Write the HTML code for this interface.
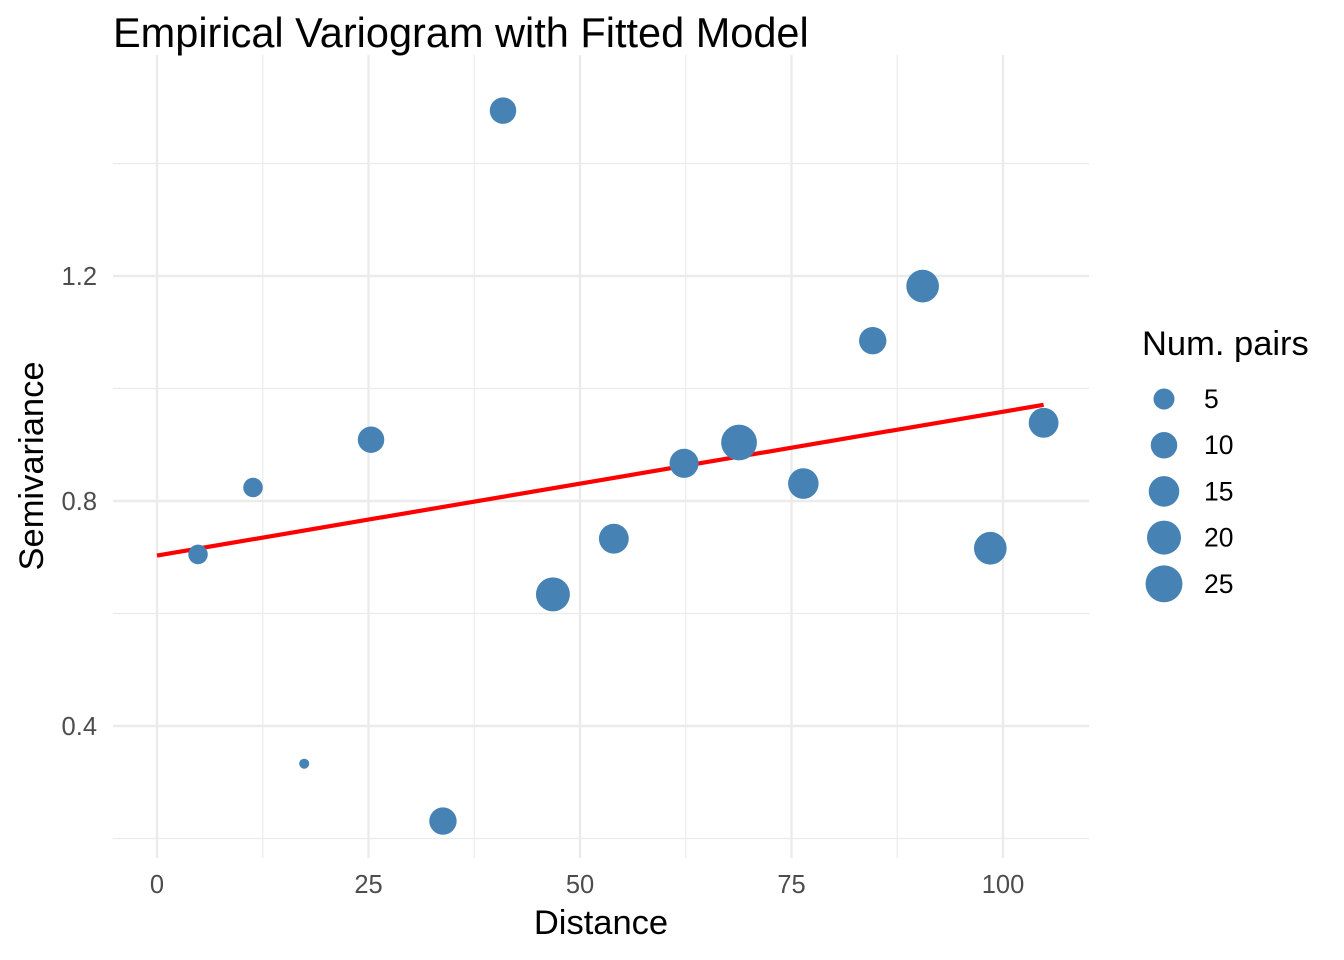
<!DOCTYPE html>
<html><head><meta charset="utf-8"><style>
html,body{margin:0;padding:0;background:#fff;}
svg{display:block;font-family:"Liberation Sans",Arial,sans-serif;}
</style></head><body>
<svg id="chart" width="1344" height="960" viewBox="0 0 1344 960" xmlns="http://www.w3.org/2000/svg">
<text x="113" y="47" font-size="41.5" fill="#000">Empirical Variogram with Fitted Model</text>
<g id="grid"></g>
<g id="axes"></g>
<g id="fit"></g>
<g id="points"></g>
<text x="601" y="934" font-size="34.5" text-anchor="middle" fill="#000">Distance</text>
<text transform="translate(43,466) rotate(-90)" font-size="34.5" text-anchor="middle" fill="#000">Semivariance</text>
<g id="legend">
<text x="1142" y="355" font-size="34.5" fill="#000">Num. pairs</text>
</g>
</svg>
<script>
const distances = [4.85, 11.35, 17.4, 25.3, 33.8, 40.9, 46.8, 54.0, 62.3, 68.8, 76.4, 84.6, 90.5, 98.5, 104.8];
const gammas = [0.705, 0.824, 0.333, 0.909, 0.231, 1.494, 0.634, 0.733, 0.867, 0.904, 0.831, 1.085, 1.182, 0.716, 0.939];
const npairs = [4, 4, 1, 10, 11, 10, 20, 14, 13, 23, 15, 11, 18, 18, 14];
const fitX = [0, 104.8];
const fitY = [0.703, 0.971];
const xTicks = [0, 25, 50, 75, 100];
const yTicks = [0.4, 0.8, 1.2];
const yMinor = [0.2, 0.6, 1.0, 1.4];
const legendSizes = [5, 10, 15, 20, 25];

const NS = "http://www.w3.org/2000/svg";
const L = 113, R = 1089, T = 55, B = 840;
const xs = v => 157 + v * (1003 - 157) / 100;
const ys = v => 501 - (v - 0.8) * (501 - 276) / 0.4;
const rs = n => 5 + 2.75 * Math.sqrt(Math.max(0, n - 1));
function mk(tag, attrs, parent) {
  const e = document.createElementNS(NS, tag);
  for (const k in attrs) e.setAttribute(k, attrs[k]);
  parent.appendChild(e);
  return e;
}
const grid = document.getElementById('grid');
const axes = document.getElementById('axes');
yMinor.forEach(v => {
  const l = mk('line', {x1: L, x2: R, y1: ys(v), y2: ys(v), stroke: '#ebebeb', 'stroke-width': 1.2}, grid);
  
  
});
for (let i = 0; i < xTicks.length - 1; i++) {
  const v = (xTicks[i] + xTicks[i + 1]) / 2;
  const l = mk('line', {x1: xs(v), x2: xs(v), y1: T, y2: B + 18, stroke: '#ebebeb', 'stroke-width': 1.2}, grid);
  
  
}
yTicks.forEach(v => {
  const l = mk('line', {x1: L, x2: R, y1: ys(v), y2: ys(v), stroke: '#ebebeb', 'stroke-width': 2.4}, grid);
  
  
  const t = mk('text', {x: 97, y: ys(v) + 9, 'font-size': 25.5, fill: '#4d4d4d', 'text-anchor': 'end'}, axes);
  t.textContent = v.toFixed(1);
  
  
});
xTicks.forEach(v => {
  const l = mk('line', {x1: xs(v), x2: xs(v), y1: T, y2: B + 18, stroke: '#ebebeb', 'stroke-width': 2.4}, grid);
  
  
  const t = mk('text', {x: xs(v), y: 893, 'font-size': 25.5, fill: '#4d4d4d', 'text-anchor': 'middle'}, axes);
  t.textContent = String(v);
  
  
});
const fit = document.getElementById('fit');
const fl = mk('line', {x1: xs(fitX[0]), y1: ys(fitY[0]), x2: xs(fitX[1]), y2: ys(fitY[1]), stroke: '#ff0000', 'stroke-width': 4.2}, fit);


const pts = document.getElementById('points');
distances.forEach((d, i) => {
  const c = mk('circle', {cx: xs(d), cy: ys(gammas[i]), r: rs(npairs[i]), fill: '#4682b4'}, pts);
  
  
});
const leg = document.getElementById('legend');
legendSizes.forEach((n, i) => {
  const y = 399 + i * 46.2;
  const c = mk('circle', {cx: 1164, cy: y, r: rs(n), fill: '#4682b4'}, leg);
  
  
  const t = mk('text', {x: 1204, y: y + 9, 'font-size': 26.5, fill: '#000'}, leg);
  t.textContent = String(n);
  
  
});
</script>
</body></html>
